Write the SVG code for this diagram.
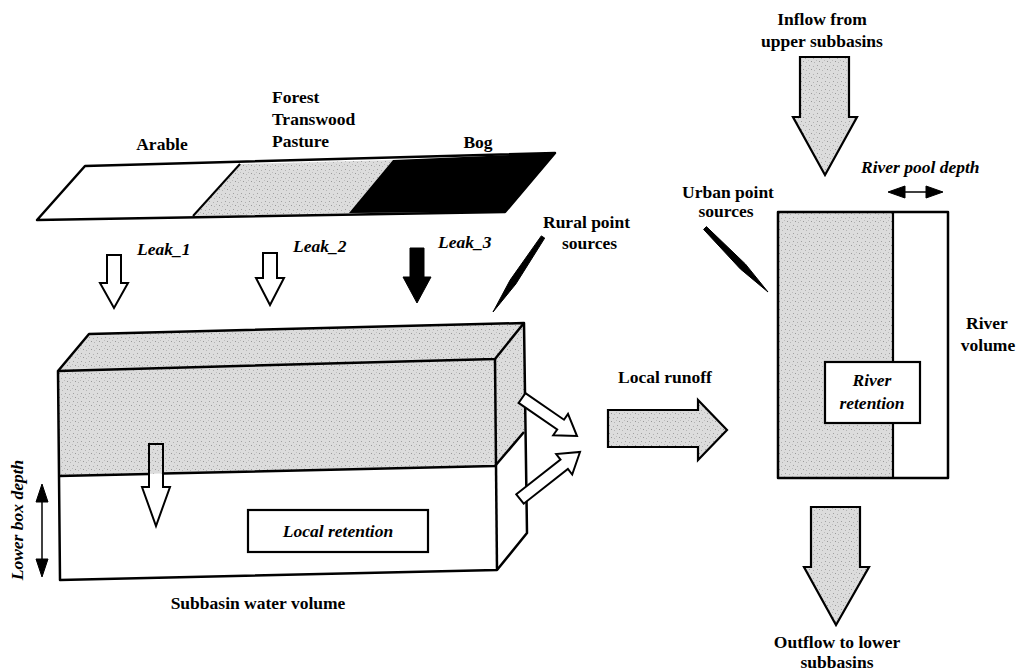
<svg xmlns="http://www.w3.org/2000/svg" width="1024" height="672" viewBox="0 0 1024 672">
<defs>
<pattern id="stip" width="8" height="8" patternUnits="userSpaceOnUse">
<rect width="8" height="8" fill="#dcdcdc"/>
<rect x="1" y="1" width="1" height="1" fill="#a0a0a0"/>
<rect x="5" y="2" width="1" height="1" fill="#b0b0b0"/>
<rect x="3" y="5" width="1" height="1" fill="#989898"/>
<rect x="6" y="6" width="1" height="1" fill="#b4b4b4"/>
<rect x="0" y="4" width="1" height="1" fill="#bcbcbc"/>
</pattern>
<style>
.lb{font-family:"Liberation Serif","Times New Roman",serif;font-weight:bold;font-size:17.5px;fill:#000}
.it{font-style:italic}
.mid{text-anchor:middle}
.edge{fill:none;stroke:#000;stroke-width:2.5;stroke-linejoin:round}
.hollow{fill:#fff;stroke:#000;stroke-width:2;stroke-linejoin:miter}
.gray{fill:url(#stip);stroke:#000;stroke-width:2.2;stroke-linejoin:miter}
.solid{fill:#000;stroke:#000;stroke-width:1}
</style>
</defs>
<rect width="1024" height="672" fill="#fff"/>

<g id="landuse-strip">
<polygon points="85,166 240,164 193,216 37,220" fill="#fff"/>
<polygon points="240,164 393,160 349,213 193,216" fill="url(#stip)"/>
<polygon points="393,160 555,153 505,212 349,213" fill="#000"/>
<polygon points="85,166 555,153 505,212 37,220" class="edge" stroke-width="2"/>
<line x1="240" y1="164" x2="193" y2="216" stroke="#000" stroke-width="2"/>
<text class="lb mid" x="162" y="150">Arable</text>
<text class="lb" x="272" y="103">Forest</text>
<text class="lb" x="272" y="125">Transwood</text>
<text class="lb" x="272" y="147">Pasture</text>
<text class="lb mid" x="478" y="148">Bog</text>
</g>

<g id="subbasin-box">
<polygon points="89,334 524,323 495,359 58,371" fill="url(#stip)"/>
<polygon points="58,371 495,359 495,466 59,476" fill="url(#stip)"/>
<polygon points="495,359 524,323 524,432 495,466" fill="url(#stip)"/>
<polygon points="59,476 495,466 497,570 60,580" fill="#fff"/>
<polygon points="495,466 524,432 527,533 497,570" fill="#fff"/>
<polygon points="58,371 89,334 524,323 527,533 497,570 60,580" class="edge"/>
<polyline points="58,371 495,359 524,323" class="edge"/>
<line x1="495" y1="359" x2="497" y2="570" class="edge"/>
<polyline points="59,476 149,474" class="edge"/>
<polyline points="163,473.6 495,466 524,432" class="edge"/>
<polygon points="149,444 163,444 163,487 170,487 156,526 142,487 149,487" fill="none" stroke="#000" stroke-width="2"/>
<rect x="248" y="510" width="180" height="42" fill="#fff" stroke="#000" stroke-width="2.2"/>
<text class="lb it mid" x="338" y="537">Local retention</text>
<text class="lb mid" x="258" y="609" font-size="19">Subbasin water volume</text>
</g>

<g id="lower-box-depth">
<text class="lb it mid" transform="translate(23,520) rotate(-90)">Lower box depth</text>
</g>

<g id="river">
<rect x="778" y="212" width="115" height="266" fill="url(#stip)"/>
<rect x="893" y="212" width="55" height="266" fill="#fff"/>
<rect x="778" y="212" width="170" height="266" class="edge"/>
<line x1="893" y1="212" x2="893" y2="478" stroke="#000" stroke-width="2.2"/>
<rect x="825" y="362" width="95" height="61" fill="#fff" stroke="#000" stroke-width="2.2"/>
<text class="lb it mid" x="872" y="386">River</text>
<text class="lb it mid" x="872" y="409">retention</text>
<text class="lb mid" x="987" y="329" font-size="20.5">River</text>
<text class="lb mid" x="988" y="351" font-size="20.5">volume</text>
<text class="lb it" x="861" y="173" font-size="18.5">River pool depth</text>
</g>

<g id="labels">
<text class="lb it" x="137" y="255">Leak_1</text>
<text class="lb it" x="293" y="252">Leak_2</text>
<text class="lb it" x="438" y="248">Leak_3</text>
<text class="lb" x="543" y="228">Rural point</text>
<text class="lb" x="562" y="249">sources</text>
<text class="lb mid" x="728" y="198">Urban point</text>
<text class="lb mid" x="726" y="217">sources</text>
<text class="lb mid" x="822" y="25" font-size="18.5">Inflow from</text>
<text class="lb mid" x="822" y="47" font-size="18.5">upper subbasins</text>
<text class="lb mid" x="665" y="383" font-size="19">Local runoff</text>
<text class="lb mid" x="837" y="648">Outflow to lower</text>
<text class="lb mid" x="837" y="668">subbasins</text>
</g>

<g id="connectors">
<polygon class="hollow" points="107,255 121,255 121,283 128,283 114,308 100,283 107,283"/>
<polygon class="hollow" points="263,253 277,253 277,278 284,278 270,305 256,278 263,278"/>
<polygon class="solid" points="410,248 424,248 424,277 431,277 417,303 403,277 410,277"/>
<polygon class="solid" points="541.3,235.9 510.1,280.1 493,312 515.9,283.9 544.7,238.1"/>
<polygon class="solid" points="706.4,226.6 745.3,263.9 768,292 740.3,268.9 703.6,229.4"/>
<polygon class="hollow" points="525.4,393.1 564,419.7 568,413.9 577,436 553.2,435.3 557.2,429.5 518.6,402.9"/>
<polygon class="hollow" points="516.3,494.3 560.5,459.6 556.2,454.1 580,452 572.2,474.5 567.9,469 523.7,503.7"/>
<polygon class="gray" points="608,410 698,410 698,400 727,430 698,460 698,447 608,447"/>
<polygon class="gray" points="800,57 849,57 849,117 857,117 825,175 793,117 800,117"/>
<polygon class="gray" points="811,507 860,507 860,567 869,567 836,625 804,567 811,567"/>
<line x1="42" y1="500" x2="42" y2="560" stroke="#000" stroke-width="1.5"/>
<polygon class="solid" points="42,484 48,502 36,502"/>
<polygon class="solid" points="42,577 48,559 36,559"/>
<line x1="902" y1="192" x2="930" y2="192" stroke="#000" stroke-width="1.5"/>
<polygon class="solid" points="888,192 905,186 905,198"/>
<polygon class="solid" points="943,192 926,186 926,198"/>
</g>
</svg>
